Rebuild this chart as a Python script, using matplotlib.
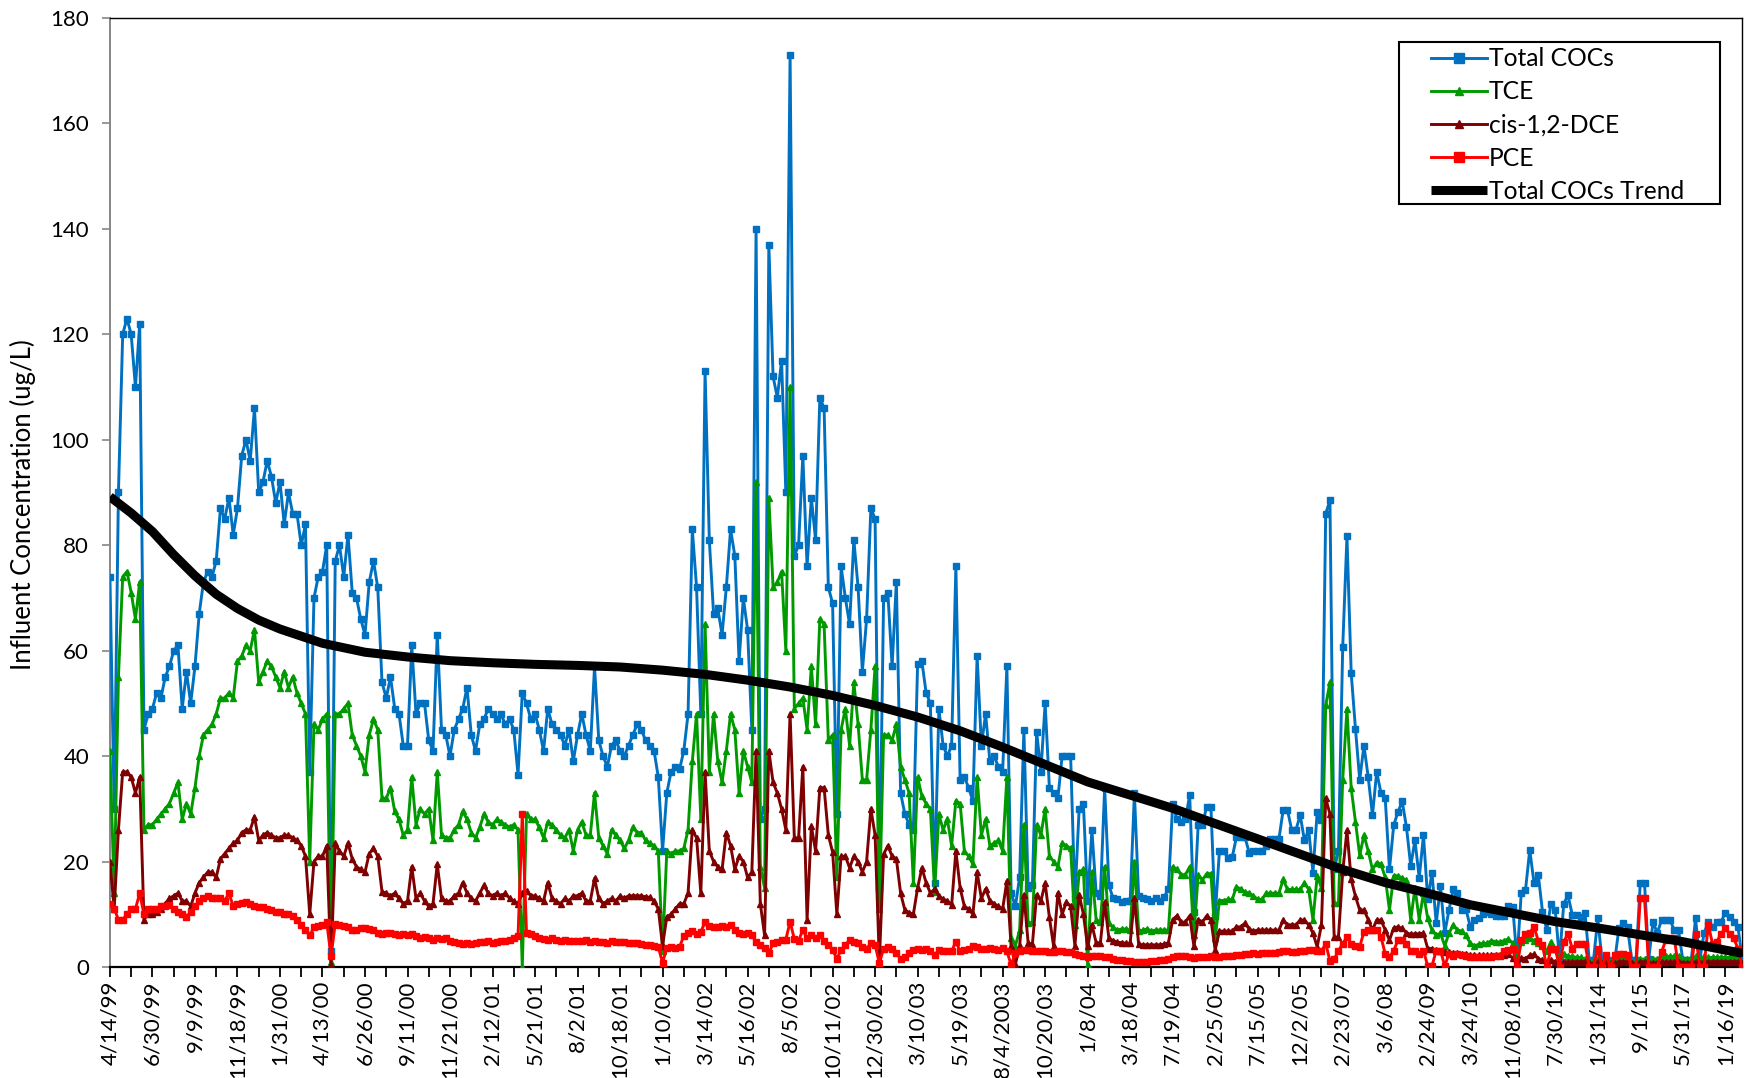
import matplotlib
matplotlib.use("Agg")
import matplotlib.pyplot as plt
from matplotlib.patches import Rectangle
import numpy as np

# x-axis category labels (one label every 10 samples)
tick_labels = ["4/14/99", "6/30/99", "9/9/99", "11/18/99", "1/31/00", "4/13/00", "6/26/00",
               "9/11/00", "11/21/00", "2/12/01", "5/21/01", "8/2/01", "10/18/01", "1/10/02",
               "3/14/02", "5/16/02", "8/5/02", "10/11/02", "12/30/02", "3/10/03", "5/19/03",
               "8/4/2003", "10/20/03", "1/8/04", "3/18/04", "7/19/04", "2/25/05", "7/15/05",
               "12/2/05", "2/23/07", "3/6/08", "2/24/09", "3/24/10", "11/08/10", "7/30/12",
               "1/31/14", "9/1/15", "5/31/17", "1/16/19"]

total_cocs = [
    74, 30, 90, 120, 123, 120, 110, 122, 45, 48,
    49, 52, 51, 55, 57, 60, 61, 49, 56, 50,
    57, 67, 73, 75, 74, 77, 87, 85, 89, 82,
    87, 97, 100, 96, 106, 90, 92, 96, 93, 88,
    92, 84, 90, 86, 86, 80, 84, 37, 70, 74,
    75, 80, 3, 77, 80, 74, 82, 71, 70, 66,
    63, 73, 77, 72, 54, 51, 55, 49, 48, 42,
    42, 61, 48, 50, 50, 43, 41, 63, 45, 44,
    40, 45, 47, 49, 53, 44, 41, 46, 47, 49,
    48, 47, 48, 46, 47, 45, 36.5, 52, 50, 47,
    48, 45, 41, 49, 46, 45, 44, 42, 45, 39,
    44, 48, 44, 41, 57, 43, 40, 38, 42, 43,
    41, 40, 42, 44, 46, 45, 43, 42, 41, 36,
    22, 33, 37, 38, 37.5, 41, 48, 83, 72, 48,
    113, 81, 67, 68, 63, 72, 83, 78, 58, 70,
    64, 45, 140, 28, 30, 137, 112, 108, 115, 90,
    173, 78, 80, 97, 76, 89, 81, 108, 106, 72,
    69, 29, 76, 70, 65, 81, 72, 56, 66, 87,
    85, 15, 70, 71, 57, 73, 33, 29, 27, 26,
    57.5, 58, 52, 50, 16, 49, 42, 40, 42, 76,
    35.5, 36, 34, 31.5, 59, 42, 48, 39, 40, 38,
    37, 57, 14, 11.5, 17, 45, 15, 15.5, 44.6, 37,
    50, 34, 33, 32, 40, 40, 40, 13, 30, 31,
    12.6, 26, 14, 13.5, 34, 15.5, 13, 12.8, 12.3, 12.5,
    12.5, 33, 13.4, 13, 12.8, 12.6, 13, 12.6, 13.3, 14.8,
    31, 28, 27.5, 28, 32.6, 10.5, 27, 27, 30.4, 30.4,
    9.7, 22, 22, 20.6, 20.8, 24.6, 24.6, 24.6, 21.7, 22,
    22, 22, 23, 24.3, 24.3, 24.3, 29.8, 29.8, 26, 26,
    28.8, 24, 26, 17.9, 29.4, 27.8, 86, 88.5, 18.5, 22,
    60.6, 81.7, 55.7, 45.2, 35.5, 42, 36, 28.8, 37, 33,
    32, 18.5, 26.9, 29.4, 31.4, 26.5, 19.2, 24, 16.9, 25,
    12.8, 17.9, 8.3, 15.3, 6.4, 10.8, 14.7, 14, 10.8, 11,
    7.6, 9, 9.3, 10, 10.5, 10, 9.7, 9.7, 9.7, 11.5,
    11.4, 1.3, 14, 14.6, 22.2, 16, 17.5, 10.5, 7, 12,
    10.8, 1.5, 12, 13.6, 9.9, 9.9, 9.5, 10.2, 1.3, 1.3,
    9.2, 1.3, 1.3, 1.3, 1.3, 7.4, 8.3, 7.5, 1.3, 1.3,
    15.9, 15.9, 1.5, 8.6, 6.4, 8.9, 8.9, 8.9, 7, 7,
    1.3, 1.3, 1.3, 9.2, 1.3, 6.4, 8.6, 7.5, 8.5, 8.6,
    10.2, 9.5, 8.5, 7.5, 1.3,
]

tce = [
    41, 14, 55, 74, 75, 71, 66, 73, 26, 27,
    27, 28, 29, 30, 31, 33, 35, 28, 31, 29,
    34, 40, 44, 45, 46, 48, 51, 51, 52, 51,
    58, 59, 61, 60, 64, 54, 56, 58, 57, 55,
    53, 56, 53, 55, 52, 50, 48, 20, 46, 45,
    47, 48, 1, 48, 48, 49, 50, 44, 42, 40,
    37, 44, 47, 45, 32, 32, 34, 29.5, 28, 25,
    26, 36, 27, 30, 29, 30, 24, 37, 25, 24.5,
    24.5, 26, 27, 29.5, 28, 25.5, 24.5, 26.5, 29, 27.5,
    27, 28, 27.5, 27, 26.5, 27, 26, 0, 29, 28,
    28, 26.5, 24.5, 27.5, 27, 26, 25, 24.5, 26, 22,
    26, 27.5, 25, 25, 33, 24.5, 23, 21.5, 26, 25,
    24, 22.5, 24, 26.5, 25.5, 25.5, 24, 23.5, 23, 22,
    3, 22, 21.5, 22, 22, 22.5, 26, 39, 48, 28,
    65, 37, 48, 39, 35, 41, 48, 45, 33, 41,
    38, 35, 92, 19, 15, 89, 72, 73, 75, 60,
    110, 49, 50, 51, 45, 57, 46, 66, 65, 43,
    44, 17, 45, 49, 42, 54, 46, 35.5, 35.5, 45,
    57, 11, 44, 44, 43, 46, 38, 35.5, 33, 16,
    36, 32.4, 31, 30, 14.3, 29, 26, 28, 23, 31.5,
    31, 22, 21, 19.5, 36, 25, 28, 23, 23.5, 24,
    22, 36, 5.4, 4, 7, 27, 8.3, 8.5, 27, 25,
    30, 21, 20, 19, 23.5, 23, 22.5, 8, 18, 18.5,
    0.3, 18, 9, 8.5, 19, 8.3, 7.5, 7, 7.2, 7.2,
    7, 20, 6.8, 7, 7.2, 6.8, 7, 7, 7, 7,
    19, 18.5, 17.5, 17.5, 19, 6.1, 17.5, 16.5, 17.7, 17.7,
    5.4, 12.6, 12.6, 12.8, 12.8, 15.2, 14.8, 14.2, 14, 13.5,
    12.8, 12.8, 14, 14, 14, 14, 16.6, 14.7, 14.7, 14.7,
    14.7, 16, 14.7, 8.9, 17.3, 15, 49.6, 54, 12.1, 12.1,
    35.5, 49, 33.9, 27.5, 21.2, 25, 22, 18.5, 19.8, 19.5,
    17, 10.8, 17.3, 17.3, 16.8, 16.5, 8.9, 15, 9, 14,
    9.2, 7, 6, 6.4, 4, 6.4, 8, 7, 6.8, 6,
    4.5, 4, 4.3, 4.5, 4.5, 5, 4.8, 4.7, 5, 5.3,
    4.5, 1, 4.7, 5.2, 5.4, 5, 4.5, 4, 3, 4.8,
    3.5, 1, 2.5, 2, 2, 1.8, 1.8, 1.5, 1, 1,
    1.5, 1, 1, 1, 1, 1.5, 1.5, 1.5, 1, 1,
    1.5, 1.5, 1, 1.5, 1.5, 2, 2, 2, 2, 2,
    1.5, 1.5, 1.5, 2, 1.5, 2, 1.8, 1.8, 1.8, 1.8,
    1.8, 1.8, 1.8, 1.8, 1,
]

cis_dce = [
    20, 11, 26, 37, 37, 36, 33, 36, 9, 10,
    10, 10.5, 11, 12, 13, 13.5, 14, 12.5, 12.5, 11.5,
    14, 16, 17, 18, 18, 17, 20.5, 21.5, 22.5, 23.5,
    24, 25.5, 26, 26, 28.5, 24, 25, 25.5, 25, 24.5,
    24.5, 25, 25, 24.5, 24, 23, 21, 10, 20, 21,
    21, 23, 0.3, 23.5, 22, 21, 23.5, 20.5, 19, 18.5,
    18, 21.5, 22.5, 21, 14.3, 14, 13.5, 14, 13, 12,
    12.5, 19, 13, 14, 12.5, 11.5, 12, 19.5, 13, 12.5,
    12.5, 13.5, 14, 16, 14, 13, 12.5, 14, 15.5, 14,
    13.5, 14, 13.5, 14, 13, 12.5, 12, 14, 14.5, 13.5,
    13.5, 13, 12.5, 16, 13, 12.5, 12, 13, 12.5, 13.5,
    13.5, 14, 12.5, 12.5, 16.8, 13, 12, 12.5, 13, 12.5,
    13.5, 13, 13.5, 13.5, 13.5, 13.5, 13.3, 13.2, 12.5, 11,
    4, 9.5, 10, 11, 12, 12, 14, 26, 24.5, 14,
    37, 22, 20, 19, 18.5, 25.5, 23, 18.5, 21, 20,
    17, 18, 41, 12, 6, 41, 35, 33, 30, 26,
    48, 24.5, 24.5, 38, 9, 26.7, 22, 34, 34, 25,
    21.8, 10, 21, 21, 18.8, 21, 20, 18, 20, 30,
    25, 1.1, 21.4, 23, 21, 20.5, 14, 10.8, 10.3, 10,
    15, 18.8, 16, 14, 14.8, 13.5, 12.8, 12.6, 11.7, 22,
    15, 11.5, 11, 10, 18, 13, 14.8, 12.6, 12, 11.5,
    11, 16.3, 3.9, 0.5, 4, 13.7, 4.6, 4.3, 13.7, 12.5,
    15.9, 9.4, 3.9, 14, 10, 12.3, 11.5, 4, 13.7, 10,
    3.9, 8, 4.6, 4.6, 12.3, 5.4, 5, 4.7, 4.6, 4.5,
    4.5, 13, 4.3, 4.2, 4.2, 4.2, 4.2, 4.2, 4.3, 4.6,
    9, 9.7, 8.5, 8.5, 9.7, 3.9, 9, 8.5, 9.7, 9,
    3.2, 6.8, 6.8, 6.8, 6.8, 7.6, 7.6, 8.3, 7.2, 6.8,
    7, 7, 7, 7, 7, 7, 8.9, 8, 8, 8,
    8.9, 8.9, 8, 6.4, 3.8, 8, 32, 29, 5.7, 5.7,
    18, 25.9, 16.6, 13.4, 10.8, 10.8, 9, 7, 8.9, 8.9,
    7, 5.1, 7.4, 7.6, 7.3, 6.5, 6.2, 6.3, 6.3, 6.4,
    3.5, 3.5, 3.2, 3, 2.8, 2.8, 2.6, 2.6, 2.5, 2.5,
    2.2, 2.2, 2.2, 2.2, 2.2, 2.2, 2.2, 2.3, 2.3, 2.4,
    1.7, 0.5, 1.7, 1.6, 2.2, 2.4, 1.6, 1.3, 1, 1.3,
    1, 0.5, 1, 1, 1, 1, 1, 1, 0.7, 0.7,
    1, 0.7, 0.7, 0.7, 0.7, 1, 1, 1, 0.7, 0.7,
    1, 1, 0.7, 0.8, 0.8, 1, 1, 1, 1, 1,
    0.8, 0.8, 0.8, 1, 0.8, 1, 1, 1, 1, 1,
    1, 1, 1, 1, 0.7,
]

pce = [
    12, 11, 9, 9, 10, 11, 11, 14, 10, 11,
    11, 11, 11.5, 11.5, 11.7, 11, 10.5, 10, 9.5, 10.5,
    11.5, 12.5, 13, 13.5, 13, 13, 13, 12.5, 14, 11.5,
    12, 12.2, 12.4, 12, 11.5, 11.3, 11.4, 11, 10.8, 10.5,
    10.4, 10, 10, 9.6, 9, 8, 7, 6, 7.5, 7.7,
    8, 8.5, 2, 8.2, 8, 7.8, 7.5, 7, 7, 7.3,
    7.3, 7.2, 7, 6.5, 6.3, 6.4, 6.5, 6.2, 6, 6.3,
    6, 6.2, 5.8, 5.5, 5.6, 5.4, 5.2, 5.5, 5.3, 5.5,
    5, 4.7, 4.5, 4.3, 4.5, 4.4, 4.6, 4.8, 4.7, 5,
    4.6, 4.8, 5, 5, 5.2, 5.5, 5.8, 29, 6.5, 6.3,
    5.8, 5.5, 5.3, 5.2, 5.4, 5.1, 5, 5.2, 5, 4.9,
    5, 4.9, 5.2, 4.8, 5, 4.7, 4.8, 4.6, 4.9, 4.7,
    4.7, 4.8, 4.6, 4.5, 4.5, 4.4, 4.2, 4.2, 4, 3.8,
    0.8, 3.6, 3.8, 3.6, 3.8, 5.9, 6.5, 6.8, 6.2, 6.7,
    8.5, 7.8, 7.5, 7.5, 7.8, 7.6, 8, 7, 6.5, 6.3,
    6.4, 6, 4.8, 4.2, 3.6, 2.6, 4.5, 4.7, 5.1, 5.2,
    8.6, 5.3, 5, 7, 5.5, 6, 5.5, 6, 5, 4.2,
    3.2, 1.6, 3.2, 4.2, 5.1, 4.8, 4.5, 3.8, 3.5, 4.5,
    4.2, 0.7, 3.5, 3.8, 3.5, 2.6, 1.6, 1.8, 2.6, 3.2,
    3.5, 3.2, 3.4, 3, 2.3, 3.2, 3, 3, 3, 4.8,
    3, 3.2, 3.4, 3.9, 3.7, 3.5, 3.4, 3.6, 3.5, 3.3,
    3.6, 3, 0.4, 2.6, 3, 3.2, 3.2, 3.1, 3, 3,
    3, 2.9, 2.9, 3, 3.1, 2.9, 2.8, 2.5, 2.2, 2.1,
    1.9, 2, 2.1, 2, 1.9, 1.8, 1.5, 1.3, 1.3, 1.2,
    1.1, 1, 1, 1, 1, 1.1, 1.2, 1.3, 1.4, 1.6,
    1.9, 2, 2.1, 2, 1.8, 1.7, 1.8, 1.9, 1.9, 2,
    1.9, 1.9, 2, 2, 2.1, 2.2, 2.3, 2.4, 2.5, 2.6,
    2.5, 2.6, 2.6, 2.7, 2.7, 2.8, 3.1, 3, 2.9, 2.9,
    3, 3.1, 3.2, 3.2, 3.1, 3, 4.4, 1.2, 1.5, 3.1,
    4.4, 5.7, 4.4, 4, 3.8, 6.7, 7, 7, 7, 5.7,
    2.5, 1.9, 3.1, 5.1, 5.1, 4.4, 3.1, 3.1, 2.5, 3.1,
    0.2, 0.2, 3.1, 3.1, 0.2, 2.5, 2, 2.5, 2.2, 2,
    1.8, 1.8, 1.8, 1.9, 1.9, 1.9, 2, 2, 3.1, 3.3,
    3.5, 0, 5.1, 6.3, 6.5, 7.6, 5, 4.1, 0, 3.5,
    3.5, 0, 4.8, 6.3, 3.5, 4.4, 4.4, 4.4, 0, 0,
    3.5, 0, 2.2, 0, 2.2, 2.5, 2.5, 2.2, 0, 0,
    13, 13, 0, 0, 0, 2.8, 5.1, 5.4, 5.4, 0,
    0, 0, 0, 6.3, 0, 0, 8, 4.4, 4.8, 6.3,
    7.3, 6.3, 5.4, 3.5, 0,
]

# Polynomial trend line of Total COCs, read at sample positions
trend_idx = [0, 5, 10, 15, 20, 25, 30, 35, 40, 50, 60, 70, 80, 90, 100, 110, 120, 130,
             140, 150, 160, 170, 180, 190, 200, 210, 220, 230, 240, 250, 260, 270, 280,
             290, 300, 310, 320, 330, 340, 350, 360, 370, 380, 384]
trend_val = [89.2, 86.1, 82.6, 78.2, 74.2, 70.7, 68.0, 65.8, 64.1, 61.4, 59.7, 58.8, 58.1,
             57.7, 57.4, 57.2, 56.9, 56.3, 55.5, 54.4, 53.1, 51.5, 49.6, 47.4, 44.8, 41.7,
             38.4, 35.1, 32.6, 30.1, 27.2, 24.3, 21.4, 18.5, 16.0, 14.0, 11.8, 10.2, 8.6,
             7.4, 6.1, 4.8, 3.2, 2.6]

plt.rcParams['font.family'] = ['Lato', 'DejaVu Sans']

fig = plt.figure(figsize=(17.59, 10.78), dpi=100)
ax = fig.add_axes([0.0625, 0.103, 0.928, 0.8803])

x = np.arange(len(total_cocs))
ax.plot(x, total_cocs, color='#0070C0', lw=2.1, marker='s', ms=4.8, label='Total COCs', zorder=3)
ax.plot(x, tce, color='#009A00', lw=2.1, marker='^', ms=4.4, label='TCE', zorder=4)
ax.plot(x, cis_dce, color='#7F0000', lw=2.1, marker='^', ms=4.4, label='cis-1,2-DCE', zorder=5)
ax.plot(x, pce, color='#FF0000', lw=2.1, marker='s', ms=4.8, label='PCE', zorder=6)
ax.plot(trend_idx, trend_val, color='black', lw=6.5, label='Total COCs Trend', zorder=7,
        solid_capstyle='butt')

ax.set_xlim(0, len(x) - 1)
ax.set_ylim(0, 180)
ax.set_yticks(range(0, 181, 20))
ax.set_xticks(np.arange(0, len(x), 10))
ax.set_xticklabels(tick_labels, rotation=90)
ax.set_xticks(np.arange(5, len(x), 10), minor=True)
ax.tick_params(axis='x', which='both', direction='out', length=7, width=1.3,
               color='black', labelsize=16, pad=3)
ax.tick_params(axis='y', direction='out', length=6, width=1.2, color='#868686',
               labelsize=16, pad=9)

ax.spines['left'].set_color('#868686')
ax.spines['left'].set_linewidth(1.4)
ax.spines['bottom'].set_color('black')
ax.spines['bottom'].set_linewidth(1.6)
for s in ('top', 'right'):
    ax.spines[s].set_color('black')
    ax.spines[s].set_linewidth(1.0)

ax.set_ylabel('Influent Concentration (ug/L)', fontsize=18.5)
ax.yaxis.set_label_coords(-0.045, 0.487)

# legend box (drawn separately so its padding matches the reference)
box = Rectangle((0.790, 0.804), 0.1965, 0.1712, transform=ax.transAxes,
                facecolor='white', edgecolor='black', lw=1.5, zorder=19)
ax.add_patch(box)
leg = ax.legend(loc='upper left', bbox_to_anchor=(0.809, 0.969), fontsize=17.7,
                frameon=False, handlelength=2.3, handletextpad=0.08,
                labelspacing=0.41, borderpad=0.0, borderaxespad=0.0, markerscale=1.4)
leg.set_zorder(20)

fig.savefig('out.png', dpi=100)
